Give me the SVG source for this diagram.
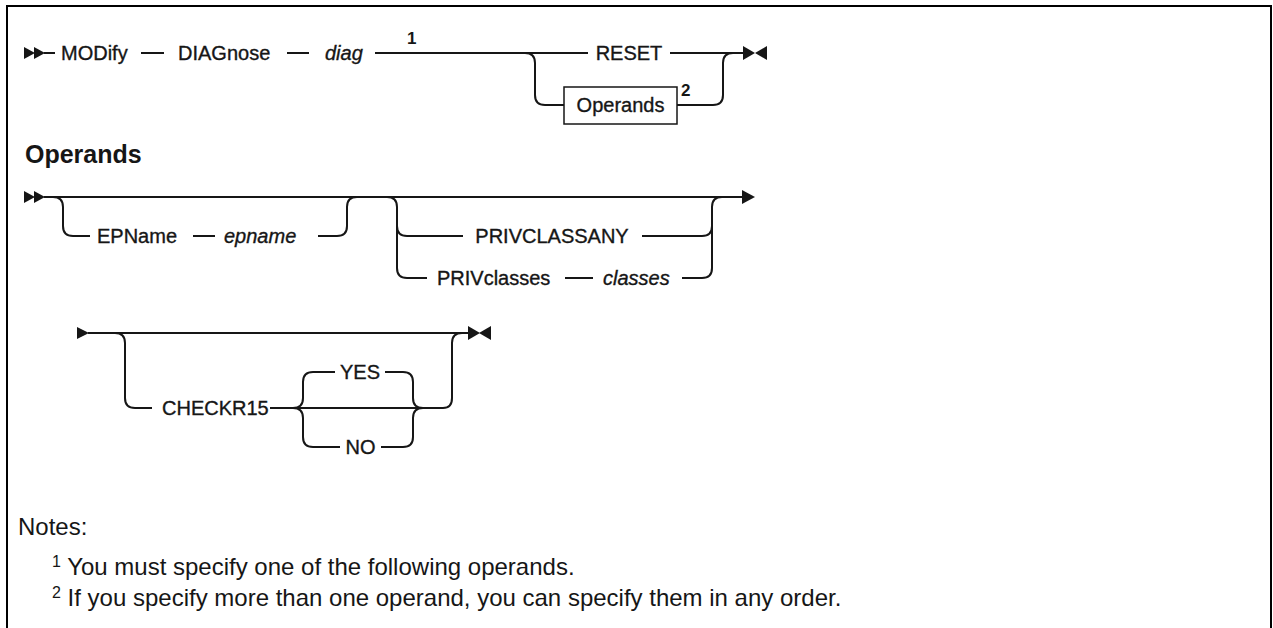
<svg xmlns="http://www.w3.org/2000/svg" width="1273" height="628" viewBox="0 0 1273 628">
<style>
.t{font-family:"Liberation Sans",Arial,sans-serif;font-size:20px;fill:#161616;stroke:#161616;stroke-width:0.35}
.i{font-style:italic}
.sup{font-family:"Liberation Sans",Arial,sans-serif;font-size:17px;font-weight:bold;fill:#161616}
.h{font-family:"Liberation Sans",Arial,sans-serif;font-size:25px;font-weight:bold;fill:#161616}
.n{font-family:"Liberation Sans",Arial,sans-serif;font-size:24px;fill:#161616}
.ns{font-family:"Liberation Sans",Arial,sans-serif;font-size:16px;fill:#161616}
.l{fill:none;stroke:#161616;stroke-width:2}
.a{fill:#161616}
</style>
<rect x="0" y="0" width="1273" height="628" fill="#fff"/>
<path d="M7,628 V6 H1271 V628" fill="none" stroke="#000" stroke-width="2"/>

<g id="connectors">
  <!-- row 1 -->
  <polygon class="a" points="24,47 35,53 24,59"/>
  <polygon class="a" points="34,47 45,53 34,59"/>
  <path class="l" d="M44,53 H55"/>
  <path class="l" d="M141,53 H164"/>
  <path class="l" d="M287,53 H309"/>
  <path class="l" d="M375,53 H588"/>
  <path class="l" d="M525,53 Q535,53 535,63 V95 Q535,105 545,105 H564"/>
  <path class="l" d="M670,53 H744"/>
  <path class="l" d="M677,105 H713 Q723,105 723,95 V63 Q723,53 733,53"/>
  <polygon class="a" points="743,46 755,53 743,60"/>
  <polygon class="a" points="767,46 755,53 767,60"/>
  <!-- row 2 -->
  <polygon class="a" points="24,191 35,197 24,203"/>
  <polygon class="a" points="34,191 45,197 34,203"/>
  <path class="l" d="M44,197 H743"/>
  <path class="l" d="M53,197 Q63,197 63,207 V226 Q63,236 73,236 H90"/>
  <path class="l" d="M193,236 H215"/>
  <path class="l" d="M318,236 H337 Q347,236 347,226 V207 Q347,197 357,197"/>
  <path class="l" d="M387,197 Q397,197 397,207 V268 Q397,278 407,278 H427"/>
  <path class="l" d="M397,226 Q397,236 407,236 H463"/>
  <path class="l" d="M642,236 H702 Q712,236 712,226"/>
  <path class="l" d="M565,278 H593"/>
  <path class="l" d="M682,278 H702 Q712,278 712,268 V207 Q712,197 722,197"/>
  <polygon class="a" points="742,190 755,197 742,204"/>
  <!-- row 3 -->
  <polygon class="a" points="77,327 89,333 77,339"/>
  <path class="l" d="M88,333 H469"/>
  <path class="l" d="M115,333 Q125,333 125,343 V398 Q125,408 135,408 H152"/>
  <path class="l" d="M270,408 H443 Q452,408 452,398 V343 Q452,333 462,333"/>
  <path class="l" d="M293,408 Q303,408 303,398 V382 Q303,372 313,372 H335"/>
  <path class="l" d="M293,408 Q303,408 303,418 V437 Q303,447 313,447 H340"/>
  <path class="l" d="M385,372 H403 Q413,372 413,382 V398 Q413,408 423,408"/>
  <path class="l" d="M381,447 H403 Q413,447 413,437 V418 Q413,408 423,408"/>
  <polygon class="a" points="468,326 480,333 468,340"/>
  <polygon class="a" points="491,326 479,333 491,340"/>
</g>

<g id="n-modify"><text class="t" x="61" y="60">MODify</text></g>
<g id="n-diagnose"><text class="t" x="178" y="60">DIAGnose</text></g>
<g id="n-diag"><text class="t i" x="325" y="60">diag</text></g>
<g id="n-note1"><text class="sup" x="407" y="44">1</text></g>
<g id="n-reset"><text class="t" x="629" y="60" text-anchor="middle">RESET</text></g>
<g id="n-operands-box">
  <rect x="564" y="87" width="113" height="37" fill="#fff" stroke="#161616" stroke-width="1.5"/>
  <text class="t" x="620.5" y="112" text-anchor="middle">Operands</text>
</g>
<g id="n-note2"><text class="sup" x="681" y="96">2</text></g>

<g id="n-heading"><text class="h" x="25" y="163">Operands</text></g>
<g id="n-epname-kw"><text class="t" x="97" y="243">EPName</text></g>
<g id="n-epname"><text class="t i" x="224" y="243">epname</text></g>
<g id="n-privclassany"><text class="t" x="552" y="243" text-anchor="middle">PRIVCLASSANY</text></g>
<g id="n-privclasses"><text class="t" x="437" y="285">PRIVclasses</text></g>
<g id="n-classes"><text class="t i" x="603" y="285">classes</text></g>

<g id="n-checkr15"><text class="t" x="162" y="415">CHECKR15</text></g>
<g id="n-yes"><text class="t" x="360" y="379" text-anchor="middle">YES</text></g>
<g id="n-no"><text class="t" x="360.5" y="454" text-anchor="middle">NO</text></g>

<g id="notes">
  <text class="n" x="18" y="535">Notes:</text>
  <text class="n" x="52" y="575"><tspan class="ns" dy="-8">1</tspan><tspan dy="8"> You must specify one of the following operands.</tspan></text>
  <text class="n" x="52" y="606"><tspan class="ns" dy="-8">2</tspan><tspan dy="8"> If you specify more than one operand, you can specify them in any order.</tspan></text>
</g>
</svg>
